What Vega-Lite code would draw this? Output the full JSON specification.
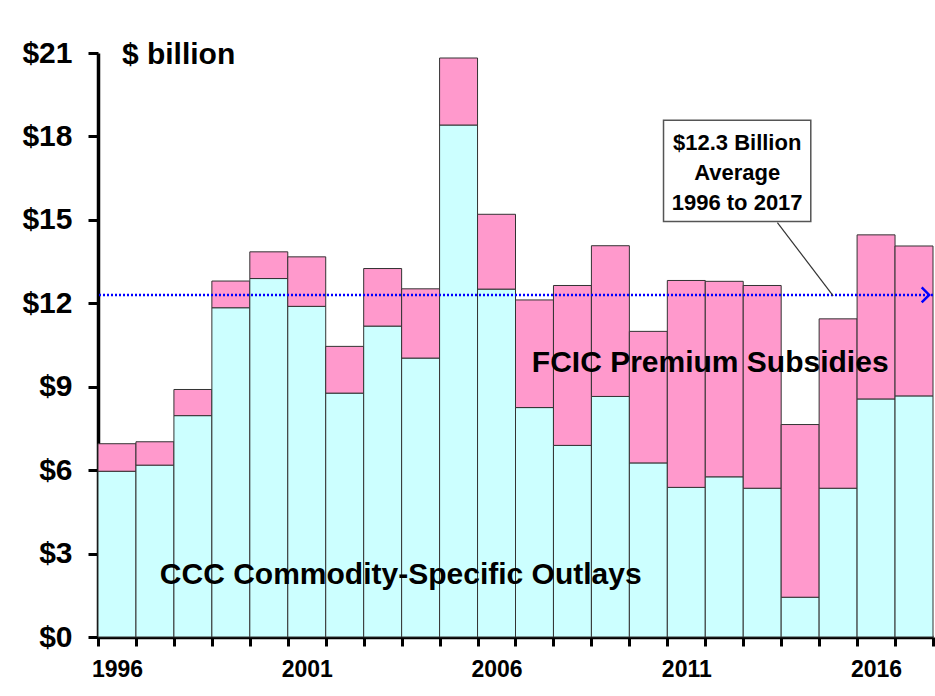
{
  "$schema": "https://vega.github.io/schema/vega-lite/v6.json",
  "width": 835,
  "height": 584,
  "autosize": "none",
  "padding": {"left": 98, "top": 53, "right": 2, "bottom": 59},
  "background": "white",
  "config": {"view": {"stroke": null}, "font": "Liberation Sans"},
  "datasets": {
    "outlays": [
      {"year": 1996, "type": "CCC", "v": 5.96}, {"year": 1996, "type": "FCIC", "v": 0.99},
      {"year": 1997, "type": "CCC", "v": 6.18}, {"year": 1997, "type": "FCIC", "v": 0.84},
      {"year": 1998, "type": "CCC", "v": 7.96}, {"year": 1998, "type": "FCIC", "v": 0.94},
      {"year": 1999, "type": "CCC", "v": 11.84}, {"year": 1999, "type": "FCIC", "v": 0.96},
      {"year": 2000, "type": "CCC", "v": 12.89}, {"year": 2000, "type": "FCIC", "v": 0.96},
      {"year": 2001, "type": "CCC", "v": 11.89}, {"year": 2001, "type": "FCIC", "v": 1.78},
      {"year": 2002, "type": "CCC", "v": 8.77}, {"year": 2002, "type": "FCIC", "v": 1.68},
      {"year": 2003, "type": "CCC", "v": 11.18}, {"year": 2003, "type": "FCIC", "v": 2.07},
      {"year": 2004, "type": "CCC", "v": 10.03}, {"year": 2004, "type": "FCIC", "v": 2.49},
      {"year": 2005, "type": "CCC", "v": 18.41}, {"year": 2005, "type": "FCIC", "v": 2.41},
      {"year": 2006, "type": "CCC", "v": 12.51}, {"year": 2006, "type": "FCIC", "v": 2.69},
      {"year": 2007, "type": "CCC", "v": 8.25}, {"year": 2007, "type": "FCIC", "v": 3.87},
      {"year": 2008, "type": "CCC", "v": 6.89}, {"year": 2008, "type": "FCIC", "v": 5.75},
      {"year": 2009, "type": "CCC", "v": 8.65}, {"year": 2009, "type": "FCIC", "v": 5.42},
      {"year": 2010, "type": "CCC", "v": 6.26}, {"year": 2010, "type": "FCIC", "v": 4.73},
      {"year": 2011, "type": "CCC", "v": 5.38}, {"year": 2011, "type": "FCIC", "v": 7.44},
      {"year": 2012, "type": "CCC", "v": 5.76}, {"year": 2012, "type": "FCIC", "v": 7.03},
      {"year": 2013, "type": "CCC", "v": 5.35}, {"year": 2013, "type": "FCIC", "v": 7.29},
      {"year": 2014, "type": "CCC", "v": 1.43}, {"year": 2014, "type": "FCIC", "v": 6.21},
      {"year": 2015, "type": "CCC", "v": 5.35}, {"year": 2015, "type": "FCIC", "v": 6.09},
      {"year": 2016, "type": "CCC", "v": 8.56}, {"year": 2016, "type": "FCIC", "v": 5.90},
      {"year": 2017, "type": "CCC", "v": 8.67}, {"year": 2017, "type": "FCIC", "v": 5.39}
    ]
  },
  "layer": [
    {
      "data": {"name": "outlays"},
      "mark": {"type": "bar", "stroke": "#333333", "strokeWidth": 1},
      "encoding": {
        "x": {
          "field": "year", "type": "ordinal",
          "scale": {"paddingInner": 0, "paddingOuter": 0},
          "axis": {
            "title": null, "labelAngle": 0, "tickBand": "extent",
            "labelExpr": "(datum.value - 1996) % 5 === 0 ? datum.label : ''",
            "labelOverlap": false,
            "domainColor": "black", "domainWidth": 3.5,
            "tickColor": "black", "tickWidth": 3, "tickSize": 9,
            "labelFont": "Liberation Sans", "labelFontWeight": "bold", "labelFontSize": 23,
            "labelColor": "black", "labelPadding": 12
          }
        },
        "y": {
          "field": "v", "type": "quantitative", "stack": "zero",
          "scale": {"domain": [0, 21], "nice": false},
          "axis": {
            "title": null, "values": [0, 3, 6, 9, 12, 15, 18, 21],
            "labelExpr": "'$' + datum.value", "grid": false,
            "domainColor": "black", "domainWidth": 3.5,
            "tickColor": "black", "tickWidth": 3, "tickSize": 10,
            "labelFont": "Liberation Sans", "labelFontWeight": "bold", "labelFontSize": 30,
            "labelColor": "black", "labelPadding": 16
          }
        },
        "color": {
          "field": "type", "type": "nominal",
          "scale": {"domain": ["CCC", "FCIC"], "range": ["#CCFFFF", "#FF99CC"]},
          "legend": null
        },
        "order": {"field": "type", "sort": "ascending"}
      }
    },
    {
      "layer": [
        {
          "data": {"values": [{"v": 12.3}]},
          "mark": {"type": "rule", "color": "#0000FF", "strokeWidth": 2.5, "strokeDash": [2, 2]},
          "encoding": {
            "y": {"field": "v", "type": "quantitative", "scale": {"domain": [0, 21], "nice": false}}
          }
        },
        {
          "data": {"values": [{"ax": 2017.4, "v": 12.3}]},
          "mark": {"type": "point", "shape": "M-1,-1L0,0L-1,1", "size": 225, "filled": false, "stroke": "#0000FF", "strokeWidth": 2.5, "opacity": 1},
          "encoding": {
            "x": {"field": "ax", "type": "quantitative", "scale": {"domain": [1995.5, 2017.5], "nice": false, "zero": false}, "axis": null},
            "y": {"field": "v", "type": "quantitative", "scale": {"domain": [0, 21], "nice": false}}
          }
        },
        {
          "data": {"values": [{"ax": 2013.4, "v": 14.9, "ax2": 2014.87, "v2": 12.27}]},
          "mark": {"type": "rule", "color": "#333333", "strokeWidth": 1.2},
          "encoding": {
            "x": {"field": "ax", "type": "quantitative", "scale": {"domain": [1995.5, 2017.5], "nice": false, "zero": false}, "axis": null},
            "x2": {"field": "ax2"},
            "y": {"field": "v", "type": "quantitative", "scale": {"domain": [0, 21], "nice": false}},
            "y2": {"field": "v2"}
          }
        },
        {
          "data": {"values": [{"ax": 2010.4, "ax2": 2014.28, "v": 18.58, "v2": 14.94}]},
          "mark": {"type": "rect", "fill": "white", "stroke": "#555555", "strokeWidth": 1.5},
          "encoding": {
            "x": {"field": "ax", "type": "quantitative", "scale": {"domain": [1995.5, 2017.5], "nice": false, "zero": false}, "axis": null},
            "x2": {"field": "ax2"},
            "y": {"field": "v", "type": "quantitative", "scale": {"domain": [0, 21], "nice": false}},
            "y2": {"field": "v2"}
          }
        },
        {
          "data": {"values": [
            {"ax": 2012.34, "v": 17.51, "label": "$12.3 Billion"},
            {"ax": 2012.34, "v": 16.45, "label": "Average"},
            {"ax": 2012.34, "v": 15.37, "label": "1996 to 2017"}
          ]},
          "mark": {"type": "text", "align": "center", "baseline": "alphabetic", "font": "Liberation Sans", "fontWeight": "bold", "fontSize": 22, "color": "black"},
          "encoding": {
            "x": {"field": "ax", "type": "quantitative", "scale": {"domain": [1995.5, 2017.5], "nice": false, "zero": false}, "axis": null},
            "y": {"field": "v", "type": "quantitative", "scale": {"domain": [0, 21], "nice": false}},
            "text": {"field": "label"}
          }
        },
        {
          "data": {"values": [
            {"ax": 1996.13, "v": 20.59, "label": "$ billion"},
            {"ax": 1997.13, "v": 1.9, "label": "CCC Commodity-Specific Outlays"},
            {"ax": 2006.93, "v": 9.52, "label": "FCIC Premium Subsidies"}
          ]},
          "mark": {"type": "text", "align": "left", "baseline": "alphabetic", "font": "Liberation Sans", "fontWeight": "bold", "fontSize": 30, "color": "black"},
          "encoding": {
            "x": {"field": "ax", "type": "quantitative", "scale": {"domain": [1995.5, 2017.5], "nice": false, "zero": false}, "axis": null},
            "y": {"field": "v", "type": "quantitative", "scale": {"domain": [0, 21], "nice": false}},
            "text": {"field": "label"}
          }
        }
      ]
    }
  ],
  "resolve": {"scale": {"x": "independent"}}
}
